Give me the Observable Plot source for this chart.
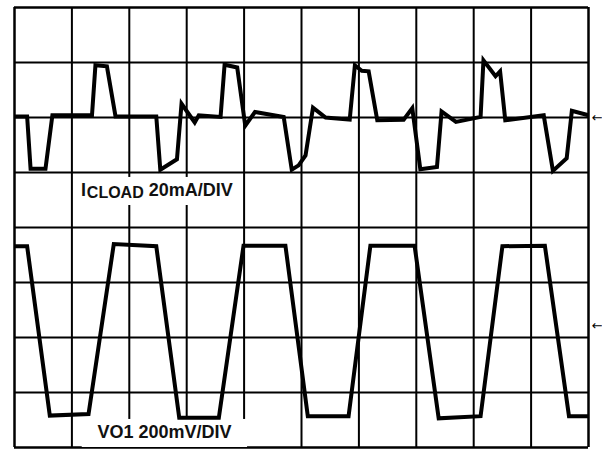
<!DOCTYPE html>
<html>
<head>
<meta charset="utf-8">
<script src="https://cdn.jsdelivr.net/npm/d3@7"></script>
<script src="https://cdn.jsdelivr.net/npm/@observablehq/plot@0.6"></script>
<style>
  html, body { margin: 0; padding: 0; background: #fff; }
  #chart svg { display: block; }
</style>
</head>
<body>
<div id="chart"></div>
<script>
// Oscilloscope screen: 10 horizontal divisions, 8 vertical divisions
const xDivisions = d3.range(0, 11);
const yDivisions = d3.range(0, 9);

// ICLOAD trace (x in divisions, y in divisions from bottom)
const iloadX = [0, 0.22, 0.28, 0.54, 0.66, 1.35, 1.41, 1.61, 1.76, 2.47, 2.54, 2.83, 2.91, 3.14, 3.21, 3.59, 3.66, 3.88, 4.02, 4.19, 4.69, 4.83, 4.95, 5.07, 5.20, 5.42, 5.84, 5.93, 6.05, 6.17, 6.32, 6.78, 6.93, 7.07, 7.36, 7.44, 7.69, 8.12, 8.17, 8.38, 8.46, 8.55, 9.22, 9.38, 9.62, 9.71, 10.0];
const iloadY = [6.02, 6.02, 5.07, 5.07, 6.04, 6.04, 6.95, 6.93, 6.02, 6.02, 5.05, 5.24, 6.25, 5.91, 6.04, 6.01, 6.96, 6.91, 5.85, 6.10, 6.01, 5.05, 5.13, 5.31, 6.18, 6.00, 5.96, 6.95, 6.85, 6.84, 5.95, 5.96, 6.17, 5.06, 5.10, 6.11, 5.92, 6.01, 7.04, 6.75, 6.84, 5.95, 6.04, 5.03, 5.26, 6.12, 6.04];

// VO1 trace
const vo1X = [0, 0.22, 0.615, 1.29, 1.73, 2.47, 2.87, 3.56, 3.99, 4.72, 5.11, 5.82, 6.20, 6.97, 7.39, 8.12, 8.50, 9.24, 9.66, 10.0];
const vo1Y = [3.66, 3.66, 0.58, 0.61, 3.70, 3.66, 0.54, 0.54, 3.67, 3.67, 0.57, 0.57, 3.67, 3.67, 0.53, 0.57, 3.66, 3.67, 0.57, 0.57];

// Channel labels
const labelTexts = ["I", "CLOAD", "20mA/DIV", "VO1 200mV/DIV"];
const labelX = [1.16, 1.26, 2.34, 1.445];
const labelY = [4.58, 4.53, 4.58, 0.164];
const labelSize = [18, 16, 18, 18];

// White label backgrounds
const boxX1 = [1.08, 1.18];
const boxX2 = [3.94, 4.06];
const boxY1 = [4.40, 0.0];
const boxY2 = [4.91, 0.51];

// Ground-level markers on the right edge
const markerX = [10.15, 10.15];
const markerY = [6.0, 2.22];
const markerText = ["←", "←"];

const iload = iloadX.map((x, i) => ({x, y: iloadY[i]}));
const vo1 = vo1X.map((x, i) => ({x, y: vo1Y[i]}));
const labels = labelTexts.map((t, i) => ({t, x: labelX[i], y: labelY[i], s: labelSize[i]}));
const boxes = boxX1.map((x1, i) => ({x1, x2: boxX2[i], y1: boxY1[i], y2: boxY2[i]}));
const markers = markerX.map((x, i) => ({x, y: markerY[i], t: markerText[i]}));

const font = "Liberation Sans, Arial, Helvetica, sans-serif";

const chart = Plot.plot({
  width: 602,
  height: 449,
  marginLeft: 14,
  marginRight: 14,
  marginTop: 7,
  marginBottom: 2,
  x: {domain: [0, 10], axis: null},
  y: {domain: [0, 8], axis: null},
  style: {background: "#fff", overflow: "visible"},
  marks: [
    Plot.ruleX(xDivisions, {x: d => d, stroke: "#000", strokeWidth: d => (d === 0 || d === 10) ? 2.5 : 2}),
    Plot.ruleY(yDivisions, {y: d => d, stroke: "#000", strokeWidth: d => (d === 0 || d === 8) ? 2.5 : 2}),
    Plot.rect(boxes, {x1: "x1", x2: "x2", y1: "y1", y2: "y2", fill: "#fff"}),
    Plot.line(iload, {x: "x", y: "y", stroke: "#000", strokeWidth: 4, strokeLinejoin: "miter", strokeMiterlimit: 3, strokeLinecap: "butt"}),
    Plot.line(vo1, {x: "x", y: "y", stroke: "#000", strokeWidth: 4, strokeLinejoin: "miter", strokeMiterlimit: 3, strokeLinecap: "butt"}),
    Plot.text(labels, {x: "x", y: "y", text: "t", fontSize: d => d.s, textAnchor: "start", lineAnchor: "bottom", fontFamily: font, fontWeight: "bold", fill: "#111"}),
    Plot.text(markers, {x: "x", y: "y", text: "t", fontSize: 13, fontFamily: "DejaVu Sans, sans-serif", fill: "#000"})
  ]
});

document.getElementById("chart").appendChild(chart);
</script>
</body>
</html>
